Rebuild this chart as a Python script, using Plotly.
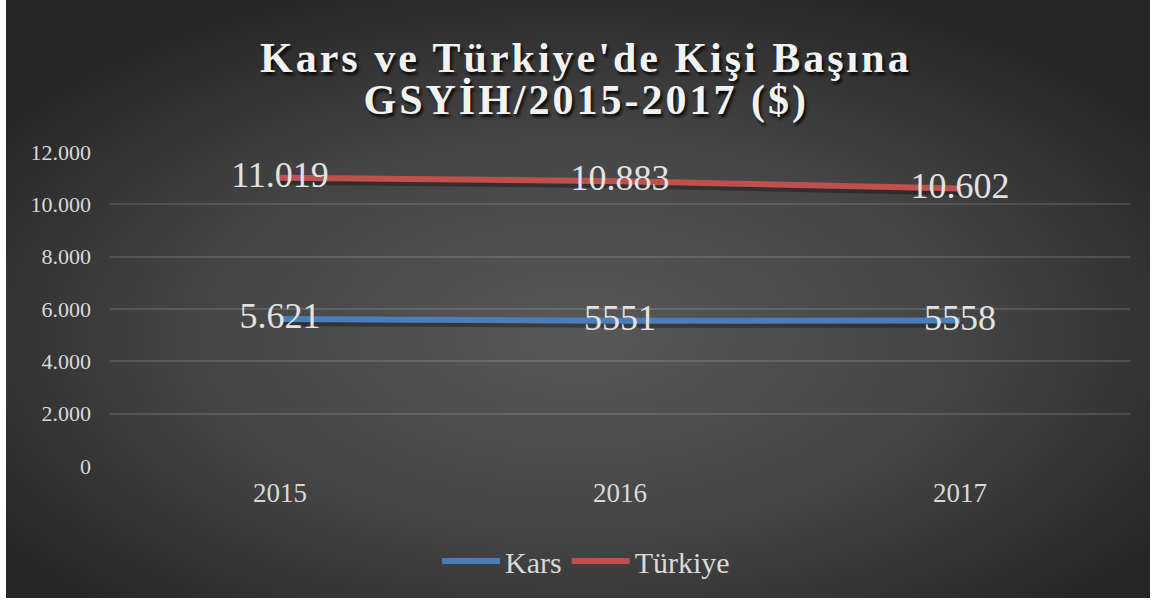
import base64
import plotly.graph_objects as go

years = ["2015", "2016", "2017"]
kars = [5621, 5551, 5558]
kars_labels = ["5.621", "5551", "5558"]
turkiye = [11019, 10883, 10602]
turkiye_labels = ["11.019", "10.883", "10.602"]
y_ticks = [0, 2000, 4000, 6000, 8000, 10000, 12000]
y_tick_labels = ["0", "2.000", "4.000", "6.000", "8.000", "10.000", "12.000"]
title_lines = ["Kars ve Türkiye'de Kişi Başına", "GSYİH/2015-2017 ($)"]

W, H = 1158, 602
ML, MR, MT, MB = 110, 28, 152, 136
PW, PH = W - ML - MR, H - MT - MB
FONT = "Times New Roman, Liberation Serif, serif"
BLUE = "#4A7EBB"
RED = "#C0504D"

svg = (
    '<svg xmlns="http://www.w3.org/2000/svg" width="1144" height="598" preserveAspectRatio="none">'
    '<defs><radialGradient id="g" cx="50%" cy="56%" r="62%">'
    '<stop offset="0" stop-color="#585858"/>'
    '<stop offset="0.55" stop-color="#444444"/>'
    '<stop offset="1" stop-color="#262626"/>'
    '</radialGradient></defs>'
    '<rect x="0" y="0" width="1144" height="598" fill="url(#g)"/></svg>'
)
src = "data:image/svg+xml;base64," + base64.b64encode(svg.encode()).decode()

fig = go.Figure()

# soft shadows under the lines (drawn on a slightly shifted hidden axis)
for vals in (kars, turkiye):
    fig.add_trace(go.Scatter(
        x=years, y=vals, mode="lines", yaxis="y",
        line=dict(color="rgba(0,0,0,0.32)", width=8),
        showlegend=False, hoverinfo="skip",
    ))

fig.add_trace(go.Scatter(
    x=years, y=kars, name="Kars", mode="lines+text", yaxis="y2",
    line=dict(color=BLUE, width=6),
    text=kars_labels, textposition="middle center",
    textfont=dict(family=FONT, size=36, color="#E2E2E2"),
    hoverinfo="skip",
))
fig.add_trace(go.Scatter(
    x=years, y=turkiye, name="Türkiye", mode="lines+text", yaxis="y2",
    line=dict(color=RED, width=6),
    text=turkiye_labels, textposition="middle center",
    textfont=dict(family=FONT, size=36, color="#E2E2E2"),
    hoverinfo="skip",
))

shift = 3 * 12000 / PH

title_font = dict(family=FONT, size=42, color="#F2F2F2", weight="bold",
                  shadow="2px 3px 3px rgba(0,0,0,0.85)")
annotations = []
for line, py in zip(title_lines, (58, 101)):
    annotations.append(dict(
        text=line, xref="paper", yref="paper",
        x=(586 - ML) / PW, y=(H - MB - py) / PH,
        xanchor="center", yanchor="middle", showarrow=False,
        font=title_font,
    ))

fig.update_layout(
    width=W, height=H,
    margin=dict(l=ML, r=MR, t=MT, b=MB),
    paper_bgcolor="white",
    plot_bgcolor="rgba(0,0,0,0)",
    images=[dict(
        source=src, xref="paper", yref="paper",
        x=(6 - ML) / PW, y=(H - MB) / PH,
        sizex=1144 / PW, sizey=598 / PH,
        xanchor="left", yanchor="top", sizing="stretch", layer="below",
    )],
    annotations=annotations,
    xaxis=dict(
        type="category", range=[-0.5, 2.5],
        showgrid=False, zeroline=False, showline=False,
        ticks="", ticklabelstandoff=8,
        tickfont=dict(family=FONT, size=27, color="#D9D9D9"),
    ),
    yaxis=dict(
        range=[shift, 12000 + shift], visible=False,
        showgrid=False, zeroline=False,
    ),
    yaxis2=dict(
        overlaying="y", side="left", range=[0, 12000],
        tickvals=y_ticks, ticktext=y_tick_labels,
        showgrid=True, gridcolor="rgba(255,255,255,0.13)", gridwidth=1.5,
        zeroline=False, showline=False, ticks="",
        ticklabelstandoff=18,
        tickfont=dict(family=FONT, size=22, color="#D9D9D9"),
    ),
    legend=dict(
        orientation="h", xref="container", yref="container",
        x=586 / W, xanchor="center", y=1 - 561 / H, yanchor="middle",
        font=dict(family=FONT, size=30, color="#D9D9D9"),
        bgcolor="rgba(0,0,0,0)", tracegroupgap=0, itemwidth=58,
    ),
    hovermode=False,
)

post = """
document.body.style.margin = '0px';
var gd = document.getElementById('{plot_id}');
function spaceTitle() {
  gd.querySelectorAll('.annotation-text').forEach(function (t) {
    t.style.letterSpacing = '3px';
  });
}
spaceTitle();
gd.on('plotly_afterplot', spaceTitle);
"""

fig.write_html("out.html", post_script=post, config={"displayModeBar": False})
